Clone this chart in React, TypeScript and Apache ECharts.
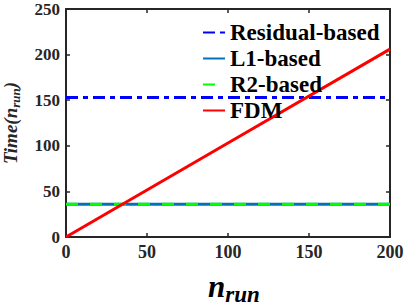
import React, { useEffect, useRef } from "react";
import * as echarts from "echarts";

const xTicks = [0, 50, 100, 150, 200];
const yTicks = [0, 50, 100, 150, 200, 250];
const residualData: [number, number][] = [[0, 153], [200, 153]];
const l1Data: [number, number][] = [[0, 36], [200, 36]];
const r2Data: [number, number][] = [[0, 36], [200, 36]];
const fdmData: [number, number][] = [[0, 0], [100, 103], [200, 206]];
const seriesNames = ["Residual-based", "L1-based", "R2-based", "FDM"];

const FONT = "'Liberation Serif', 'Times New Roman', serif";

export default function App() {
  const ref = useRef<HTMLDivElement>(null);
  useEffect(() => {
    if (!ref.current) return;
    const chart = echarts.init(ref.current, null, { renderer: "svg" });
    const axisCommon = {
      type: "value" as const,
      splitLine: { show: false },
      axisLine: { show: true, onZero: false, lineStyle: { color: "#262626", width: 2 } },
      axisTick: { show: true, inside: true, length: 4, lineStyle: { color: "#262626", width: 1.5 } },
    };
    chart.setOption({
      animation: false,
      backgroundColor: "#fff",
      textStyle: { fontFamily: FONT },
      grid: { left: 66, right: 17, top: 9, bottom: 69, containLabel: false, outerBoundsMode: "none" },
      xAxis: [
        {
          ...axisCommon,
          min: xTicks[0],
          max: xTicks[xTicks.length - 1],
          interval: 50,
          position: "bottom",
          axisLabel: { color: "#262626", fontFamily: FONT, fontWeight: "bold", fontSize: 18, margin: 6 },
          name: "{n|n}{s|run}",
          nameLocation: "middle",
          nameGap: 30,
          nameTextStyle: {
            padding: [0, 0, 0, 12],
            rich: {
              n: { fontFamily: FONT, fontWeight: "bold", fontStyle: "italic", fontSize: 31, color: "#000" },
              s: { fontFamily: FONT, fontWeight: "bold", fontStyle: "italic", fontSize: 23, color: "#000", padding: [16, 0, 0, 0] },
            },
          },
        },
        {
          ...axisCommon,
          min: xTicks[0],
          max: xTicks[xTicks.length - 1],
          interval: 50,
          position: "top",
          axisLabel: { show: false },
        },
      ],
      yAxis: [
        {
          ...axisCommon,
          min: yTicks[0],
          max: yTicks[yTicks.length - 1],
          interval: 50,
          position: "left",
          axisLabel: {
            color: "#262626",
            fontFamily: FONT,
            fontWeight: "bold",
            fontSize: 17,
            lineHeight: 14,
            padding: [4, 0, 0, 0],
            margin: 6,
          },
          name: "{t|Time(n}{s|run}{t|)}",
          nameLocation: "middle",
          nameGap: 44,
          nameRotate: 90,
          nameTextStyle: {
            rich: {
              t: { fontFamily: FONT, fontWeight: "bold", fontStyle: "italic", fontSize: 19, color: "#262626" },
              s: { fontFamily: FONT, fontWeight: "bold", fontStyle: "italic", fontSize: 13, color: "#262626", padding: [10, 0, 0, 0] },
            },
          },
        },
        {
          ...axisCommon,
          min: yTicks[0],
          max: yTicks[yTicks.length - 1],
          interval: 50,
          position: "right",
          axisLabel: { show: false },
        },
      ],
      legend: {
        data: seriesNames,
        orient: "vertical",
        left: 202,
        top: 21,
        itemGap: 3,
        itemWidth: 22,
        itemHeight: 14,
        itemStyle: { opacity: 0 },
        textStyle: { fontFamily: FONT, fontWeight: "bold", fontSize: 23, color: "#000" },
        padding: 0,
      },
      series: [
        {
          name: seriesNames[0],
          type: "line",
          data: residualData,
          symbol: "none",
          lineStyle: { color: "#0000FF", width: 3, type: [12, 5, 5, 5] },
          itemStyle: { color: "#0000FF" },
        },
        {
          name: seriesNames[1],
          type: "line",
          data: l1Data,
          symbol: "none",
          lineStyle: { color: "#0072BD", width: 3, type: "solid" },
          itemStyle: { color: "#0072BD" },
        },
        {
          name: seriesNames[2],
          type: "line",
          data: r2Data,
          symbol: "none",
          lineStyle: { color: "#00FF00", width: 3, type: [12, 12] },
          itemStyle: { color: "#00FF00" },
        },
        {
          name: seriesNames[3],
          type: "line",
          data: fdmData,
          symbol: "none",
          lineStyle: { color: "#FF0000", width: 3 },
          itemStyle: { color: "#FF0000" },
        },
      ],
    });
    return () => chart.dispose();
  }, []);
  return <div ref={ref} style={{ width: 407, height: 306, position: "fixed", left: 0, top: 0 }} />;
}
